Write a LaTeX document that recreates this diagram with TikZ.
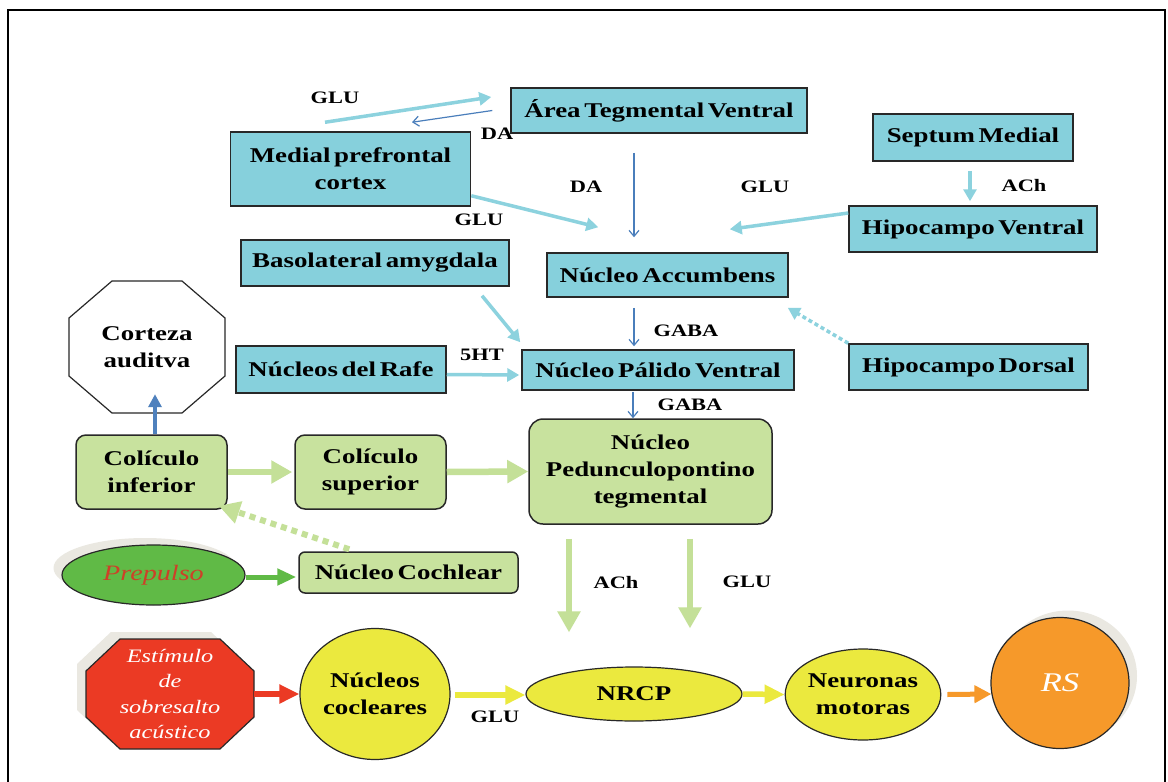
\documentclass[tikz,border=0pt]{standalone}
\usepackage{fontspec}
\setmainfont{Liberation Serif}[FakeStretch=1.28,WordSpace=0.55]
\usetikzlibrary{shapes.geometric,arrows.meta,calc}
\definecolor{cyanbox}{RGB}{134,208,220}
\definecolor{cyanarr}{RGB}{140,210,222}
\definecolor{bluethin}{RGB}{74,126,187}
\definecolor{steelb}{RGB}{79,129,189}
\definecolor{lgreen}{RGB}{200,226,158}
\definecolor{lgarr}{RGB}{196,224,152}
\definecolor{prepgreen}{RGB}{96,186,70}
\definecolor{prepred}{RGB}{205,65,40}
\definecolor{stimred}{RGB}{235,58,36}
\definecolor{yellowf}{RGB}{235,233,62}
\definecolor{orangef}{RGB}{246,153,42}
\definecolor{shadowc}{RGB}{234,232,225}
\definecolor{bordc}{RGB}{40,40,40}
\newcommand{\boxfont}{\bfseries\fontsize{21}{27}\selectfont}
\newcommand{\labfont}{\bfseries\fontsize{17.5}{20}\selectfont}
\tikzset{
  cbox/.style={draw=bordc, line width=1.5pt, fill=cyanbox, inner sep=0pt, align=center, font=\boxfont, text=black},
  gbox/.style={cbox, fill=lgreen, rounded corners=10pt},
  ybox/.style={ellipse, draw=bordc, line width=1.2pt, fill=yellowf, inner sep=0pt, align=center, font=\boxfont, text=black},
  lab/.style={font=\labfont, inner sep=0pt, text=black},
  carr/.style={draw=cyanarr, line width=3.5pt, -{Triangle[length=12pt,width=13pt]}},
  barr/.style={draw=bluethin, line width=1.2pt, -{Straight Barb[length=6pt,width=10pt,line width=1.2pt]}},
  garr/.style={draw=lgarr, line width=6.5pt, -{Triangle[length=21pt,width=22pt]}},
  sarr/.style={draw=steelb, line width=3.5pt, -{Triangle[length=13pt,width=13pt]}},
  warr/.style={line width=5.5pt, -{Triangle[length=20pt,width=18pt]}},
}
\begin{document}
\begin{tikzpicture}[x=1pt,y=-1pt]
\useasboundingbox (0,0) rectangle (1168,782);
\fill[white] (0,0) rectangle (1168,782);
\draw[line width=1.3pt, black] (8,790) -- (8,10) -- (1165,10) -- (1165,790);

% top cyan boxes
\node[cbox, minimum width=296pt, minimum height=45pt] (atv) at (659,110.5) {Área Tegmental Ventral};
\node[cbox, minimum width=240pt, minimum height=74pt] (mpfc) at (350.5,169) {Medial prefrontal\\cortex};
\node[cbox, minimum width=200pt, minimum height=47pt] (sept) at (973,137.5) {Septum Medial};
\node[cbox, minimum width=248pt, minimum height=46pt] (hipv) at (973,229) {Hipocampo Ventral};
\node[cbox, minimum width=268pt, minimum height=46pt] (baso) at (375,263) {Basolateral amygdala};
\node[cbox, minimum width=241pt, minimum height=44pt] (nacc) at (667.5,275) {Núcleo Accumbens};
\node[cbox, minimum width=210pt, minimum height=47pt] (rafe) at (341,369.5) {Núcleos del Rafe};
\node[cbox, minimum width=272pt, minimum height=40pt] (npv) at (658,370) {Núcleo Pálido Ventral};
\node[cbox, minimum width=239pt, minimum height=46pt] (hipd) at (968.5,367) {Hipocampo Dorsal};

% corteza octagon
\draw[bordc, line width=1.2pt, fill=white] (112,281) -- (182,281) -- (225,318) -- (225,376) -- (182,413) -- (112,413) -- (69,376) -- (69,318) -- cycle;
\node[inner sep=0pt, minimum width=156pt, minimum height=132pt, align=center, font=\boxfont] (cort) at (147,347) {Corteza\\auditva};

% green boxes
\node[gbox, minimum width=151pt, minimum height=74pt] (colinf) at (151.5,472) {Colículo\\inferior};
\node[gbox, minimum width=151pt, minimum height=74pt] (colsup) at (370.5,472) {Colículo\\superior};
\node[gbox, minimum width=243pt, minimum height=105pt, rounded corners=14pt] (ppt) at (650.5,471.5) {Núcleo\\Pedunculopontino\\tegmental};
\node[gbox, minimum width=219pt, minimum height=41pt, rounded corners=6pt] (coch) at (408.5,572.5) {Núcleo Cochlear};

% prepulso
\fill[shadowc] (145,568) ellipse (91.5pt and 30pt);
\node[ellipse, draw=bordc, line width=1.2pt, fill=prepgreen, minimum width=183pt, minimum height=60pt, inner sep=0pt, text=prepred, font=\itshape\fontsize{22}{26}\selectfont] (prep) at (153.5,575) {Prepulso};

% estimulo octagon
\fill[shadowc] (111,632) -- (211,632) -- (245,664) -- (245,710) -- (211,742) -- (111,742) -- (77,710) -- (77,664) -- cycle;
\draw[bordc, line width=1.2pt, fill=stimred] (120,639) -- (220,639) -- (254,671) -- (254,717) -- (220,749) -- (120,749) -- (86,717) -- (86,671) -- cycle;
\node[inner sep=0pt, minimum width=168pt, minimum height=110pt, align=center, text=white, font=\itshape\fontsize{19}{25.5}\selectfont] (est) at (170,694) {Estímulo\\de\\sobresalto\\acústico};

% bottom row
\node[ybox, minimum width=150pt, minimum height=131pt] (coc) at (375,694) {Núcleos\\cocleares};
\node[ybox, minimum width=216pt, minimum height=54pt] (nrcp) at (634,694) {NRCP};
\node[ybox, minimum width=138pt, minimum height=91pt] (neur) at (863,694.5) {Neuronas\\motoras};
\fill[shadowc] (1068,676) ellipse (69pt and 65.5pt);
\node[ellipse, draw=bordc, line width=1.2pt, fill=orangef, minimum width=138pt, minimum height=131pt, inner sep=0pt, text=white, font=\itshape\fontsize{27}{30}\selectfont] (rs) at (1060,683) {RS};

% connectors top
\draw[carr] ($(mpfc.north)+(-25.5,-9)$) -- ($(atv.west)+(-19,-13.5)$);
\draw[barr] ($(atv.west)+(-18,0)$) -- ($(mpfc.north)+(61.5,-9)$);
\draw[barr] ($(atv.south)+(-25,19)$) -- ($(nacc.north)+(-33.5,-15)$);
\draw[carr] ($(mpfc.south east)+(0,-11)$) -- ($(nacc.north west)+(52,-25)$);
\draw[carr] ($(hipv.west)+(0,-16)$) -- ($(nacc.north east)+(-59,-23)$);
\draw[carr] ($(sept.south)+(-3,9)$) -- ($(hipv.north)+(-3,-4)$);
\draw[barr] ($(nacc.south)+(-33.5,10)$) -- ($(npv.north)+(-24,-3)$);
\draw[carr, dash pattern=on 4pt off 3pt] (hipd.north west) -- ($(nacc.south east)+(-1,10)$);
\draw[carr] ($(baso.south)+(107,9)$) -- ($(npv.north west)+(-1,-7)$);
\draw[carr] ($(rafe.east)+(0,5)$) -- ($(npv.west)+(-2,5)$);
\draw[barr] ($(npv.south)+(-25,1)$) -- ($(ppt.north)+(-17.5,0)$);

% middle
\draw[sarr] ($(colinf.north)+(3.5,0)$) -- ($(cort.south)+(8,-19)$);
\draw[garr] (colinf.east) -- ($(colsup.west)+(-2,0)$);
\draw[garr] (colsup.east) -- (ppt.west);
\draw[garr, line width=6pt, dash pattern=on 6pt off 5pt] ($(coch.north west)+(51,-2)$) -- ($(colinf.south east)+(-9,-4)$);
\draw[warr, draw=prepgreen, line width=5pt, -{Triangle[length=19pt,width=16pt]}] ($(prep.east)+(0,2)$) -- ($(coch.west)+(-2,4.5)$);
\draw[garr] ($(ppt.south)+(-81.5,14)$) -- ($(nrcp.north)+(-65,-34)$);
\draw[garr] ($(ppt.south)+(39.5,14)$) -- ($(nrcp.north)+(56,-38)$);

% bottom
\draw[warr, draw=stimred] (est.east) -- (coc.west);
\draw[warr, draw=yellowf] ($(coc.east)+(4,1)$) -- ($(nrcp.west)+(0,1)$);
\draw[warr, draw=yellowf] (nrcp.east) -- (neur.west);
\draw[warr, draw=orangef, line width=5pt, -{Triangle[length=17pt,width=17pt]}] ($(neur.east)+(6,0)$) -- ($(rs.west)+(1,11)$);

% labels
\node[lab] (l1) at (335,98) {GLU};
\node[lab] (l2) at (497,134) {DA};
\node[lab] (l3) at (586,187) {DA};
\node[lab] (l4) at (765,187) {GLU};
\node[lab] (l5) at (1024,186) {ACh};
\node[lab] (l6) at (479,220) {GLU};
\node[lab] (l7) at (686,331) {GABA};
\node[lab] (l8) at (482,355) {5HT};
\node[lab] (l9) at (690,405) {GABA};
\node[lab] (l10) at (616,583) {ACh};
\node[lab] (l11) at (747,582) {GLU};
\node[lab] (l12) at (495,717) {GLU};
\end{tikzpicture}
\end{document}
